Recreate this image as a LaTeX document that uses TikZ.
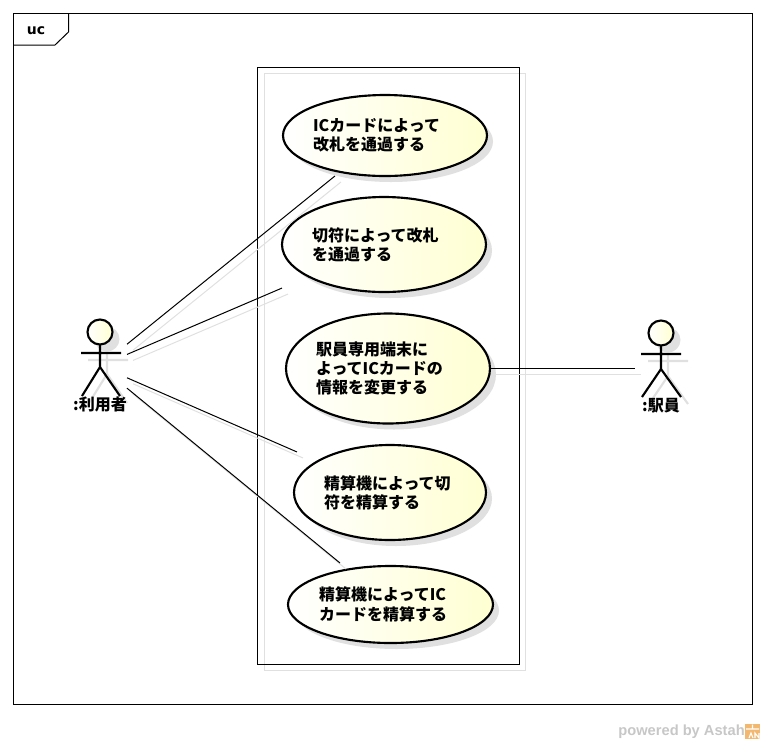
\documentclass[tikz,border=0pt]{standalone}
\usepackage{fontspec}
\setmainfont{Noto Sans CJK JP}
\newfontfamily\latinbold{DejaVu Sans}
\newfontfamily\astahfont{Liberation Sans}
\usetikzlibrary{shapes.geometric,shadows,fit}
\definecolor{shadowgrey}{HTML}{E0E0E0}
\definecolor{ucyellow}{HTML}{FFFFD2}
\definecolor{astahorange}{HTML}{F2B870}
\tikzset{
  usecase/.style n args={2}{ellipse,draw=black,line width=1.6pt,inner sep=0pt,outer sep=0pt,
    minimum width=#1*0.75pt,minimum height=#2*0.75pt,
    left color=white,right color=ucyellow,
    general shadow={shadow xshift=4.5pt,shadow yshift=-4.5pt,fill=shadowgrey},
    font=\bfseries\fontsize{12pt}{14.25pt}\selectfont,align=left},
  ucbox/.style={rectangle,inner sep=0pt,outer sep=0pt,draw=none},
  actorbox/.style={rectangle,draw=none,inner sep=0pt,outer sep=0pt,minimum width=40.5pt,minimum height=45pt},
  actorhead/.style={circle,draw=black,line width=1.6pt,inner sep=0pt,minimum size=18.75pt,left color=white,right color=ucyellow},
  shadowhead/.style={circle,fill=shadowgrey,inner sep=0pt,minimum size=18.75pt},
  limb/.style={draw=black,line width=1.6pt},
  shadowlimb/.style={draw=shadowgrey,line width=1.6pt},
  conn/.style={draw=black,line width=0.75pt},
  connshadow/.style={draw=shadowgrey,line width=0.75pt,transform canvas={shift={(4.5pt,-4.5pt)}}},
  actorlabel/.style={font=\bfseries\fontsize{12pt}{14pt}\selectfont,inner sep=0pt},
  frameline/.style={draw=black,line width=0.75pt}
}
\begin{document}
\begin{tikzpicture}[x=0.75pt,y=-0.75pt]
\useasboundingbox (0,0) rectangle (765,744);
% frame
\draw[frameline] (13.5,13.5) rectangle (752.5,704.5);
\draw[frameline] (13.5,45) -- (55,45) -- (68.5,32) -- (68.5,13.5);
\node[font=\latinbold\bfseries\fontsize{10.5pt}{12pt}\selectfont,inner sep=0pt] (frametag) at (36,31) {uc};
% system boundary
\fill[white] (257.5,67.5) rectangle (519.5,664.5);
\draw[draw=shadowgrey,line width=0.75pt] (264.5,73.5) rectangle (525.5,670.5);
\draw[draw=black,line width=0.75pt] (257.5,67.5) rectangle (519.5,664.5);
% use cases
\node[usecase={204}{81},text width=108pt] (e1) at (385,135.5) {\raisebox{-1pt}{\shortstack[l]{ICカードによって\\改札を通過する}}};
\node[usecase={204}{95},text width=108pt] (e2) at (384,244.5) {\raisebox{-1pt}{\shortstack[l]{切符によって改札\\を通過する}}};
\node[usecase={204}{110},text width=108pt] (e3) at (388,368.5) {駅員専用端末に\\よってICカードの\\情報を変更する};
\node[usecase={192}{95},text width=99pt] (e4) at (390,492.5) {精算機によって切\\符を精算する};
\node[usecase={205}{77},text width=107pt] (e5) at (390.5,604.5) {\raisebox{0.75pt}{\shortstack[l]{精算機によってIC\\カードを精算する}}};
\node[ucbox,fit=(e1)] (b1) {};
\node[ucbox,fit=(e2)] (b2) {};
\node[ucbox,fit=(e3)] (b3) {};
\node[ucbox,fit=(e4),inner xsep=-2.25pt] (b4) {};
\node[ucbox,fit=(e5),inner ysep=2.25pt] (b5) {};
% actor anchors
\node[actorbox] (user) at (100,366) {};
\node[actorbox,minimum width=39pt] (staff) at (661,368.5) {};
% connector shadows
\draw[connshadow] (user) -- (b1);
\draw[connshadow] (user) -- (b2);
\draw[connshadow] (user) -- (b4);
\draw[connshadow] (user) -- (b5);
\draw[connshadow] (b3) -- (staff);
% connectors
\draw[conn] (user) -- (b1);
\draw[conn] (user) -- (b2);
\draw[conn] (user) -- (b4);
\draw[conn] (user) -- (b5);
\draw[conn] (b3) -- (staff);
% actor user
\begin{scope}[shift={(7,7)}]
\node[shadowhead] at (100,332) {};
\draw[shadowlimb] (100,345) -- (100,367) (81,353) -- (121,353) (82,396) -- (100,367) -- (120,396);
\end{scope}
\draw[limb] (100,345) -- (100,367) (81,353) -- (121,353) (82,396) -- (100,367) -- (120,396);
\node[actorhead] (userhead) at (100,332) {};
\node[actorlabel] (userlabel) at (100,404) {:利用者};
% actor staff
\begin{scope}[shift={(7,7)}]
\node[shadowhead] at (661,333) {};
\draw[shadowlimb] (661,346) -- (661,369) (641,354) -- (681,354) (642,397) -- (661,369) -- (681,397);
\end{scope}
\draw[limb] (661,346) -- (661,369) (641,354) -- (681,354) (642,397) -- (661,369) -- (681,397);
\node[actorhead] (staffhead) at (661,333) {};
\node[actorlabel] (stafflabel) at (661,406) {:駅員};
% watermark
\node[font=\astahfont\bfseries\fontsize{11pt}{12pt}\selectfont,text=black!22,inner sep=0pt,anchor=east] (powered) at (745,732) {powered by Astah};
\fill[astahorange] (745,724) rectangle (760,739);
\draw[white,line width=0.8pt] (746,729) -- (759,729) (752.5,724.5) -- (752.5,729) (749,738) -- (751,733) -- (753,738) (755,738) -- (755,733) -- (759,738) -- (759,733);
\end{tikzpicture}
\end{document}
